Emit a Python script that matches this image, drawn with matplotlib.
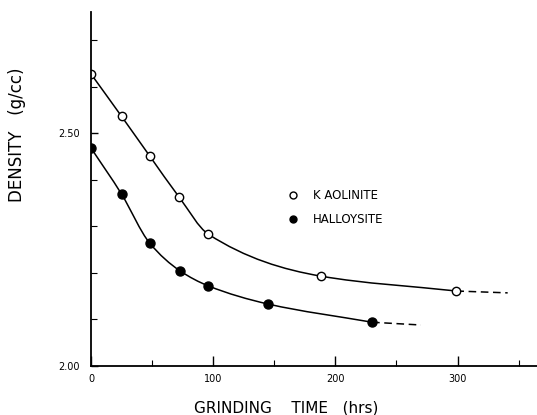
import numpy as np
import matplotlib.pyplot as plt
from matplotlib.path import Path
from matplotlib.patches import PathPatch

kaol_t = [0, 25, 48, 72, 96, 188, 299]
kaol_d = [2.627, 2.536, 2.451, 2.363, 2.283, 2.193, 2.161]
kaol_ext_t = [299, 341]
kaol_ext_d = [2.161, 2.157]

hall_t = [0, 25, 48, 73, 96, 145, 230]
hall_d = [2.468, 2.369, 2.264, 2.204, 2.172, 2.133, 2.094]
hall_ext_t = [230, 270]
hall_ext_d = [2.094, 2.088]

x_major = [0, 100, 200, 300]
x_major_labels = ['0', '100', '200', '300']
x_minor = [50, 150, 250, 350]
y_major = [2.00, 2.50]
y_major_labels = ['2.00', '2.50']
y_minor = [2.10, 2.20, 2.30, 2.40, 2.60, 2.70]


def smooth_path(xs, ys):
    # monotone (pchip-like) cubic through the points, drawn as bezier segments
    x = np.asarray(xs, float)
    y = np.asarray(ys, float)
    h = np.diff(x)
    s = np.diff(y) / h
    m = np.empty_like(x)
    m[0], m[-1] = s[0], s[-1]
    for i in range(1, len(x) - 1):
        if s[i - 1] * s[i] <= 0:
            m[i] = 0
        else:
            w1 = 2 * h[i] + h[i - 1]
            w2 = h[i] + 2 * h[i - 1]
            m[i] = (w1 + w2) / (w1 / s[i - 1] + w2 / s[i])
    verts = [(x[0], y[0])]
    codes = [Path.MOVETO]
    for i in range(len(x) - 1):
        verts += [(x[i] + h[i] / 3, y[i] + m[i] * h[i] / 3),
                  (x[i + 1] - h[i] / 3, y[i + 1] - m[i + 1] * h[i] / 3),
                  (x[i + 1], y[i + 1])]
        codes += [Path.CURVE4] * 3
    return Path(verts, codes)


W, H = 537, 415
fig = plt.figure(figsize=(W / 100, H / 100), dpi=100)
ax = fig.add_axes([91 / W, 1 - 366 / H, (W - 91) / W, (366 - 12) / H])

lw = 1.1
ax.add_patch(PathPatch(smooth_path(kaol_t, kaol_d), fc='none', ec='black', lw=lw, zorder=2))
ax.plot(kaol_ext_t, kaol_ext_d, 'k--', lw=lw, dashes=(5, 3), zorder=2)
ax.plot(kaol_t, kaol_d, 'o', ms=6, mfc='white', mec='black', mew=1.0, zorder=3)

ax.add_patch(PathPatch(smooth_path(hall_t, hall_d), fc='none', ec='black', lw=lw, zorder=2))
ax.plot(hall_ext_t, hall_ext_d, 'k--', lw=lw, dashes=(5, 3), zorder=2)
ax.plot(hall_t, hall_d, 'o', ms=6.5, mfc='black', mec='black', zorder=3)

ax.set_xlim(0, 365)
ax.set_ylim(2.0, 2.76)

for s in ['top', 'right']:
    ax.spines[s].set_visible(False)
for s in ['left', 'bottom']:
    ax.spines[s].set_linewidth(1.3)
ax.spines['left'].set_zorder(4)

ax.set_xticks(x_major)
ax.set_xticklabels(x_major_labels)
ax.set_xticks(x_minor, minor=True)
ax.set_yticks(y_major)
ax.set_yticklabels(y_major_labels)
ax.set_yticks(y_minor, minor=True)
ax.tick_params(axis='both', which='major', direction='in', length=7, width=1, labelsize=7)
ax.tick_params(axis='both', which='minor', direction='in', length=4, width=0.8)
ax.tick_params(axis='x', which='major', pad=6)
ax.tick_params(axis='y', which='major', pad=8)
ax.tick_params(axis='y', which='major', length=5)

fig.text(286 / W, 1 - 408 / H, 'GRINDING    TIME   (hrs)', ha='center', va='center', fontsize=11)
fig.text(17 / W, 1 - 135 / H, 'DENSITY   (g/cc)', ha='center', va='center',
         rotation=90, fontsize=12)

# legend
fig.lines.append(plt.Line2D([293 / W], [1 - 195 / H], marker='o', ms=5, mfc='white', mec='black',
                            mew=1.0, ls='none', transform=fig.transFigure))
fig.lines.append(plt.Line2D([293 / W], [1 - 219 / H], marker='o', ms=5, mfc='black', mec='black',
                            ls='none', transform=fig.transFigure))
fig.text(313 / W, 1 - 195 / H, 'K AOLINITE', ha='left', va='center', fontsize=8.5)
fig.text(313 / W, 1 - 219 / H, 'HALLOYSITE', ha='left', va='center', fontsize=8.5)

plt.savefig('out.png', dpi=100)
